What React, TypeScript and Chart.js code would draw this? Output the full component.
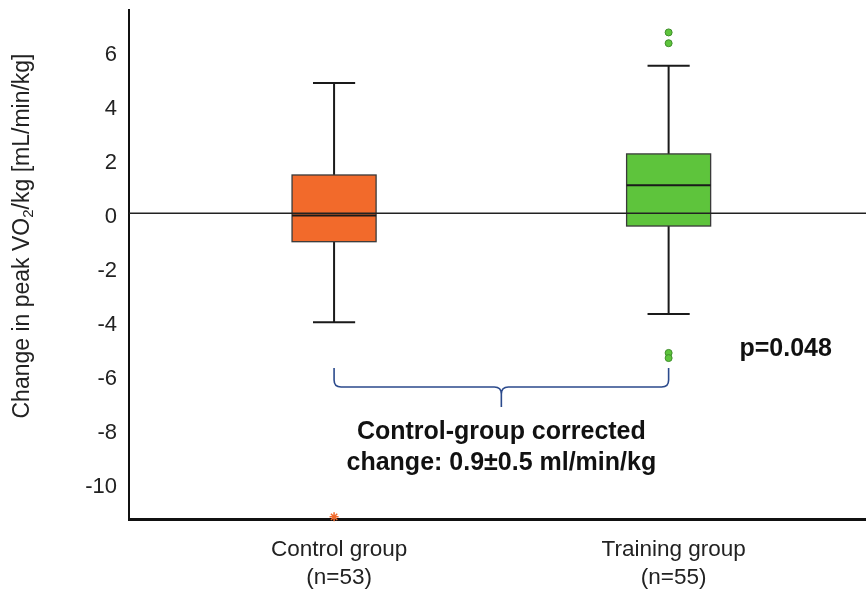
import React, { useEffect, useRef } from 'react';
import { Chart, registerables } from 'chart.js';

Chart.register(...registerables);

// ---- data ----
const groupNames = ['Control group', 'Training group'];
const groupSizes = ['(n=53)', '(n=55)'];
const groupPositions = [1, 2];
const whiskerMin = [-4.03, -3.73];
const quartile1 = [-1.05, -0.47];
const medians = [-0.08, 1.04];
const quartile3 = [1.42, 2.2];
const whiskerMax = [4.83, 5.47];
const controlOutliers = [-11.24];
const trainingOutliers = [6.7, 6.3, -5.17, -5.36];
const yTickValues = [-10, -8, -6, -4, -2, 0, 2, 4, 6];
const pValueText = 'p=0.048';
const noteLines = ['Control-group corrected', 'change: 0.9\u00B10.5 ml/min/kg'];

// ---- styles ----
const FONT = '"Liberation Sans", Arial, sans-serif';
const boxColors = ['#F26A2B', '#5EC43C'];
const BOX_HALF = 0.1256;
const CAP_HALF = 0.063;

const boxPlugin = {
  id: 'boxPlot',
  beforeDatasetsDraw(chart: any) {
    const { ctx, chartArea } = chart;
    const x = chart.scales.x;
    const y = chart.scales.y;
    ctx.save();
    groupPositions.forEach((g, i) => {
      const cx = x.getPixelForValue(g);
      const half = x.getPixelForValue(g + BOX_HALF) - cx;
      const capHalf = x.getPixelForValue(g + CAP_HALF) - cx;
      const yMin = y.getPixelForValue(whiskerMin[i]);
      const yQ1 = y.getPixelForValue(quartile1[i]);
      const yMed = y.getPixelForValue(medians[i]);
      const yQ3 = y.getPixelForValue(quartile3[i]);
      const yMax = y.getPixelForValue(whiskerMax[i]);
      ctx.strokeStyle = '#1a1a1a';
      ctx.lineWidth = 2;
      ctx.beginPath();
      ctx.moveTo(cx, yMax);
      ctx.lineTo(cx, yQ3);
      ctx.moveTo(cx, yQ1);
      ctx.lineTo(cx, yMin);
      ctx.moveTo(cx - capHalf, yMax);
      ctx.lineTo(cx + capHalf, yMax);
      ctx.moveTo(cx - capHalf, yMin);
      ctx.lineTo(cx + capHalf, yMin);
      ctx.stroke();
      ctx.fillStyle = boxColors[i];
      ctx.fillRect(cx - half, yQ3, 2 * half, yQ1 - yQ3);
      ctx.strokeStyle = '#3a3a3a';
      ctx.lineWidth = 1.3;
      ctx.strokeRect(cx - half, yQ3, 2 * half, yQ1 - yQ3);
      ctx.strokeStyle = '#1a1a1a';
      ctx.lineWidth = 2;
      ctx.beginPath();
      ctx.moveTo(cx - half, yMed);
      ctx.lineTo(cx + half, yMed);
      ctx.stroke();
    });
    const y0 = y.getPixelForValue(0);
    ctx.strokeStyle = '#222';
    ctx.lineWidth = 1.5;
    ctx.beginPath();
    ctx.moveTo(chartArea.left, y0);
    ctx.lineTo(chartArea.right, y0);
    ctx.stroke();
    ctx.restore();
  },
  afterDraw(chart: any) {
    const { ctx } = chart;
    const x = chart.scales.x;
    const y = chart.scales.y;
    ctx.save();
    // brace
    const xL = x.getPixelForValue(groupPositions[0]);
    const xR = x.getPixelForValue(groupPositions[1]);
    const xC = (xL + xR) / 2;
    const yTop = y.getPixelForValue(-5.73);
    const yMid = y.getPixelForValue(-6.43);
    const yTip = y.getPixelForValue(-7.17);
    const r = 7;
    ctx.strokeStyle = '#2B4A8C';
    ctx.lineWidth = 1.6;
    ctx.beginPath();
    ctx.moveTo(xL, yTop);
    ctx.lineTo(xL, yMid - r);
    ctx.quadraticCurveTo(xL, yMid, xL + r, yMid);
    ctx.lineTo(xC - r, yMid);
    ctx.quadraticCurveTo(xC, yMid, xC, yMid + r);
    ctx.lineTo(xC, yTip);
    ctx.moveTo(xR, yTop);
    ctx.lineTo(xR, yMid - r);
    ctx.quadraticCurveTo(xR, yMid, xR - r, yMid);
    ctx.lineTo(xC + r, yMid);
    ctx.quadraticCurveTo(xC, yMid, xC, yMid + r);
    ctx.stroke();

    // note text
    ctx.fillStyle = '#111';
    ctx.textAlign = 'center';
    ctx.textBaseline = 'middle';
    ctx.font = `bold 25px ${FONT}`;
    ctx.fillText(noteLines[0], x.getPixelForValue(1.5), y.getPixelForValue(-8.1));
    ctx.fillText(noteLines[1], x.getPixelForValue(1.5), y.getPixelForValue(-9.25));
    ctx.fillText(pValueText, x.getPixelForValue(2.35), y.getPixelForValue(-5.04));

    // y title with subscript
    ctx.translate(21, 236);
    ctx.rotate(-Math.PI / 2);
    const big = `23px ${FONT}`;
    const small = `15px ${FONT}`;
    const s1 = 'Change in peak VO';
    const s2 = '2';
    const s3 = '/kg [mL/min/kg]';
    ctx.font = big;
    const w1 = ctx.measureText(s1).width;
    const w3 = ctx.measureText(s3).width;
    ctx.font = small;
    const w2 = ctx.measureText(s2).width;
    let px = -(w1 + w2 + w3) / 2;
    ctx.textAlign = 'left';
    ctx.textBaseline = 'alphabetic';
    ctx.fillStyle = '#222';
    ctx.font = big;
    ctx.fillText(s1, px, 8);
    px += w1;
    ctx.font = small;
    ctx.fillText(s2, px, 12);
    px += w2;
    ctx.font = big;
    ctx.fillText(s3, px, 8);
    ctx.restore();
  },
};

export default function App() {
  const canvasRef = useRef<HTMLCanvasElement | null>(null);

  useEffect(() => {
    document.body.style.margin = '0';
    const canvas = canvasRef.current;
    if (!canvas) return;
    const chart = new Chart(canvas, {
      type: 'scatter',
      data: {
        datasets: [
          {
            label: 'Control outliers',
            data: controlOutliers.map((v) => ({ x: groupPositions[0], y: v })),
            pointStyle: 'star',
            radius: 4.5,
            borderColor: '#F26A2B',
            backgroundColor: '#F26A2B',
            borderWidth: 1.5,
            clip: false,
          },
          {
            label: 'Training outliers',
            data: trainingOutliers.map((v) => ({ x: groupPositions[1], y: v })),
            pointStyle: 'circle',
            radius: 3.5,
            borderColor: '#3E8E2A',
            backgroundColor: '#5EC43C',
            borderWidth: 1,
          },
        ],
      },
      options: {
        responsive: false,
        animation: false,
        devicePixelRatio: 1,
        layout: { autoPadding: false, padding: { top: 10, right: 0, left: 0, bottom: 0 } },
        plugins: {
          legend: { display: false },
          tooltip: { enabled: false },
          title: { display: false },
        },
        scales: {
          x: {
            type: 'linear',
            min: 0.387,
            max: 2.59,
            afterFit: (scale: any) => {
              scale.height = 71;
              scale.paddingLeft = 0;
              scale.paddingRight = 0;
            },
            afterBuildTicks: (scale: any) => {
              scale.ticks = groupPositions.map((v) => ({ value: v }));
            },
            grid: { display: false, drawTicks: false },
            border: { display: true, color: '#111', width: 3 },
            ticks: {
              padding: 17,
              labelOffset: 5,
              color: '#222',
              font: { family: FONT, size: 22.5, lineHeight: 1.25 },
              callback: (v: any) => {
                const i = groupPositions.indexOf(Number(v));
                return i >= 0 ? [groupNames[i], groupSizes[i]] : '';
              },
              maxRotation: 0,
              autoSkip: false,
            },
          },
          y: {
            type: 'linear',
            min: -11.32,
            max: 7.53,
            afterFit: (scale: any) => {
              scale.width = 129;
              scale.paddingTop = 0;
              scale.paddingBottom = 0;
            },
            afterBuildTicks: (scale: any) => {
              scale.ticks = yTickValues.map((v) => ({ value: v }));
            },
            grid: { display: false, drawTicks: false },
            border: { display: true, color: '#111', width: 2 },
            ticks: {
              padding: 12,
              labelOffset: 4,
              color: '#222',
              font: { family: FONT, size: 22 },
              callback: (v: any) => String(v),
            },
          },
        },
      },
      plugins: [boxPlugin],
    });
    return () => chart.destroy();
  }, []);

  return (
    <div style={{ width: 866, height: 590, position: 'relative' }}>
      <canvas ref={canvasRef} width={866} height={590} />
    </div>
  );
}
